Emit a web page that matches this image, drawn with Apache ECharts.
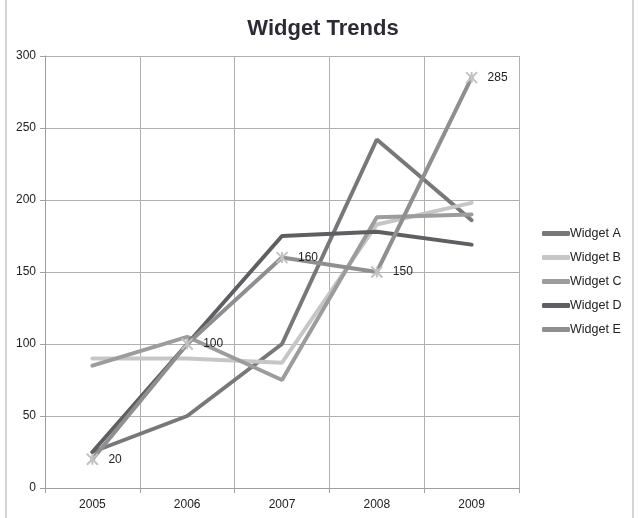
<!DOCTYPE html>
<html>
<head>
<meta charset="utf-8">
<script src="https://cdn.jsdelivr.net/npm/echarts@6/dist/echarts.min.js"></script>
<style>
	html, body { margin: 0; padding: 0; background: #fff; }
	#main { width: 639px; height: 518px; }
</style>
</head>
<body>
<div id="main"></div>
<script type="text/javascript">
	// data
	var years = ['2005', '2006', '2007', '2008', '2009'];
	var widgetA = [25, 50, 100, 242, 186];
	var widgetB = [90, 90, 87, 183, 198];
	var widgetC = [85, 105, 75, 188, 190];
	var widgetD = [25, 100, 175, 178, 169];
	var widgetE = [20, 100, 160, 150, 285];
	var seriesNames = ['Widget A', 'Widget B', 'Widget C', 'Widget D', 'Widget E'];
	var seriesColors = ['#78787b', '#c6c6c6', '#9c9c9c', '#5f5f63', '#8f8f8f'];

	var chart = echarts.init(document.getElementById('main'));

	function lineSeries(idx, data) {
		return {
			name: seriesNames[idx],
			type: 'line',
			data: data,
			symbol: 'none',
			color: seriesColors[idx],
			lineStyle: { width: 4, color: seriesColors[idx], cap: 'round' },
			animation: false
		};
	}

	var starPath = 'path://M0,0L10,10M10,0L0,10M5,0L5,10';
	var seriesE = lineSeries(4, widgetE);
	seriesE.symbol = starPath;
	seriesE.symbolSize = 11;
	seriesE.showSymbol = true;
	seriesE.itemStyle = { color: 'none', borderColor: '#c2c2c2', borderWidth: 2 };
	seriesE.label = {
		show: true,
		position: 'right',
		distance: 8,
		color: '#222',
		fontSize: 12,
		fontFamily: 'Liberation Sans'
	};

	// legend: solid bars in each series colour
	var legendData = seriesNames.map(function (n, i) {
		return { name: n, itemStyle: { color: seriesColors[i], borderWidth: 0 } };
	});

	chart.setOption({
		title: {
			text: 'Widget Trends',
			left: 318,
			textAlign: 'center',
			top: 13,
			textStyle: { fontSize: 22, fontWeight: 'bold', color: '#2b2b36', fontFamily: 'Liberation Sans' }
		},
		graphic: [{
			type: 'rect',
			shape: { x: 6, y: -2, width: 627, height: 540 },
			style: { fill: 'none', stroke: '#a8a8a8', lineWidth: 1 },
			silent: true
		}],
		legend: {
			orient: 'vertical',
			left: 542,
			top: 227,
			padding: 0,
			icon: 'roundRect',
			itemWidth: 28,
			itemHeight: 5,
			itemGap: 11,
			textStyle: { fontSize: 12.5, color: '#222', fontFamily: 'Liberation Sans', padding: [0, 0, 0, -5] },
			data: legendData
		},
		grid: { left: 45, right: 120, top: 56, bottom: 30 },
		xAxis: {
			type: 'category',
			data: years,
			boundaryGap: true,
			axisLine: { lineStyle: { color: '#a0a0a0' } },
			axisTick: { show: true, length: 5, lineStyle: { color: '#a0a0a0' } },
			splitLine: { show: true, lineStyle: { color: '#b0b0b0' } },
			axisLabel: { color: '#222', fontSize: 12, margin: 11, fontFamily: 'Liberation Sans' }
		},
		yAxis: {
			type: 'value',
			min: 0,
			max: 300,
			interval: 50,
			axisLine: { show: true, lineStyle: { color: '#a0a0a0' } },
			axisTick: { show: true, length: 5, lineStyle: { color: '#a0a0a0' } },
			splitLine: { show: true, lineStyle: { color: '#b0b0b0' } },
			axisLabel: { color: '#222', fontSize: 12, margin: 9, fontFamily: 'Liberation Sans' }
		},
		series: [
			lineSeries(0, widgetA),
			lineSeries(1, widgetB),
			lineSeries(2, widgetC),
			lineSeries(3, widgetD),
			seriesE
		]
	});
</script>
</body>
</html>
